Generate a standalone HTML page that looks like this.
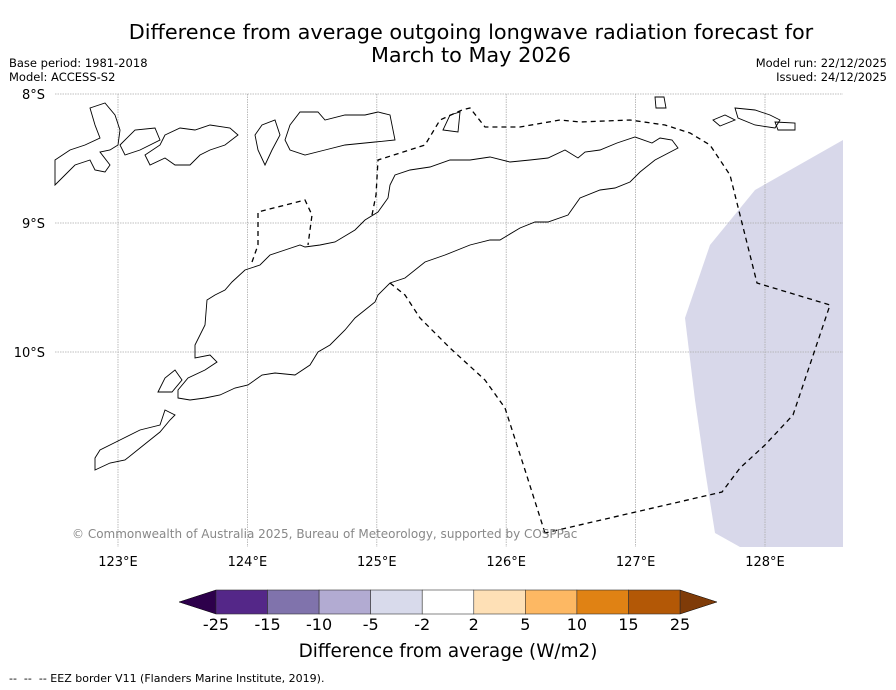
<!DOCTYPE html>
<html><head><meta charset="utf-8"><style>
body{margin:0;background:#fff;width:896px;height:690px;overflow:hidden;font-family:"DejaVu Sans","Liberation Sans",sans-serif;}
svg{display:block}
</style></head><body>
<svg width="896" height="690" viewBox="0 0 896 690">
<text x="471" y="39" font-size="20.8" text-anchor="middle">Difference from average outgoing longwave radiation forecast for</text>
<text x="471" y="62" font-size="20.8" text-anchor="middle">March to May 2026</text>
<text x="9" y="67" font-size="11.5">Base period: 1981-2018</text>
<text x="9" y="81" font-size="11.5">Model: ACCESS-S2</text>
<text x="887" y="67" font-size="11.5" text-anchor="end">Model run: 22/12/2025</text>
<text x="887" y="81" font-size="11.5" text-anchor="end">Issued: 24/12/2025</text>

<g>
<polygon fill="#d8d8ea" points="843,140 755,190 710,245 685,318 695,400 705,470 715,533 740,547 843,547"/>
<g id="grid" stroke="#aaa" stroke-width="0.8" stroke-dasharray="1.5,1"></g>
<g fill="none" stroke="#000" stroke-width="0.9">
<polygon points="178,398 190,400 205,398 220,395 235,388 248,385 262,375 275,373 295,375 310,365 318,352 330,345 345,330 355,318 375,302 378,295 390,283 405,278 425,262 445,255 470,245 490,240 500,240 520,228 535,222 548,222 568,215 580,198 600,190 615,188 630,182 640,172 655,160 678,148 672,140 660,138 652,143 635,137 617,143 600,150 585,152 578,158 565,150 548,158 530,160 510,162 490,157 470,160 450,160 430,167 410,170 395,175 390,185 388,198 378,212 365,220 355,230 335,242 320,245 305,247 300,245 285,250 270,255 260,265 245,270 232,282 225,290 215,295 207,300 205,325 195,345 195,358 210,355 217,362 205,370 188,378 178,390"/>
<polygon points="290,125 300,112 318,112 325,120 345,115 365,115 378,112 390,115 395,140 375,142 345,145 325,150 305,155 290,150 285,140"/>
<polygon points="255,135 262,125 275,120 280,135 272,150 265,165 258,150"/>
<polygon points="165,135 180,128 195,130 210,125 230,128 238,135 225,145 210,150 200,155 190,165 175,165 165,158 150,165 145,155 160,145"/>
<polygon points="120,145 135,130 155,128 160,140 140,150 125,155"/>
<polygon points="55,160 70,150 85,145 100,138 95,125 90,108 105,103 115,115 120,130 118,145 110,150 100,152 110,165 105,172 95,170 90,160 75,165 65,175 55,185"/>
<polygon points="443,130 450,115 460,112 458,132"/>
<polygon points="655,97 664,97 666,108 656,108"/>
<polygon points="735,108 755,110 770,115 780,120 775,128 755,125 738,118"/>
<polygon points="775,122 795,123 795,130 778,130"/>
<polygon points="713,120 725,115 735,120 720,126"/>
<polygon points="95,470 110,463 125,460 140,448 150,440 160,432 170,420 175,415 165,410 160,425 140,430 120,440 100,450 95,458"/>
<polygon points="158,392 165,378 175,370 182,380 172,392"/>
</g>
<g fill="none" stroke="#000" stroke-width="1.3" stroke-dasharray="5,4">
<polyline points="252,262 258,245 258,212 305,200 312,215 308,245"/>
<polyline points="372,215 376,195 378,160 425,145 440,120 462,110 470,108 485,127 520,127 560,120 580,122 630,120 665,125 690,133 710,145 730,175 745,235 757,283 830,305 793,415 765,445 740,468 722,492 545,533"/>
<polyline points="390,283 405,295 420,318 450,348 485,380 505,408 525,470 545,533"/>
</g>
<text x="72" y="538" font-size="12" fill="#888">© Commonwealth of Australia 2025, Bureau of Meteorology, supported by COSPPac</text>
<g id="lonlabels" font-size="13" text-anchor="middle"></g>
<g id="latlabels" font-size="13" text-anchor="end"></g>
</g>

<g>
<polygon points="216,590 179,602 216,614" fill="#2d004b" stroke="#000" stroke-width="0.5"/>
<polygon points="680,590 717,602 680,614" fill="#7f3b08" stroke="#000" stroke-width="0.5"/>
<g id="cbar"></g>
</g>
<text x="448" y="657" font-size="18.4" text-anchor="middle">Difference from average (W/m2)</text>
<text x="9" y="682" font-size="11" xml:space="preserve">--  --  -- EEZ border V11 (Flanders Marine Institute, 2019).</text>
</svg>
<script>
const lonTicks=[123,124,125,126,127,128];
const latTicks=[8,9,10];
const cbarBounds=["-25","-15","-10","-5","-2","2","5","10","15","25"];
const cbarColors=["#542788","#8073ac","#b2abd2","#d8daeb","#ffffff","#fee0b6","#fdb863","#e08214","#b35806"];
const NS="http://www.w3.org/2000/svg";
const xLon=v=>118+(v-123)*129.4;
const yLat=v=>94+(v-8)*129;
const grid=document.getElementById('grid');
lonTicks.forEach(v=>{
  const l=document.createElementNS(NS,'line');
  l.setAttribute('x1',xLon(v));l.setAttribute('x2',xLon(v));l.setAttribute('y1',94);l.setAttribute('y2',547);
  
  
  grid.appendChild(l);
  const t=document.createElementNS(NS,'text');
  t.setAttribute('x',xLon(v));t.setAttribute('y',566);t.textContent=v+'°E';
  
  
  document.getElementById('lonlabels').appendChild(t);
});
latTicks.forEach(v=>{
  const l=document.createElementNS(NS,'line');
  l.setAttribute('x1',55);l.setAttribute('x2',843);l.setAttribute('y1',yLat(v));l.setAttribute('y2',yLat(v));
  
  
  grid.appendChild(l);
  const t=document.createElementNS(NS,'text');
  t.setAttribute('x',45);t.setAttribute('y',yLat(v)+5);t.textContent=v+'°S';
  
  
  document.getElementById('latlabels').appendChild(t);
});
const cb=document.getElementById('cbar');
const x0=216,w=(680-216)/cbarColors.length;
cbarColors.forEach((c,i)=>{
  const r=document.createElementNS(NS,'rect');
  r.setAttribute('x',x0+i*w);r.setAttribute('y',590);r.setAttribute('width',w);r.setAttribute('height',24);
  r.setAttribute('fill',c);r.setAttribute('stroke','#333');r.setAttribute('stroke-width','0.6');
  
  
  cb.appendChild(r);
});
cbarBounds.forEach((b,i)=>{
  const t=document.createElementNS(NS,'text');
  t.setAttribute('x',x0+i*w);t.setAttribute('y',630);t.setAttribute('font-size','16');t.setAttribute('text-anchor','middle');
  t.textContent=b;
  
  
  cb.appendChild(t);
});
</script>
</body></html>
